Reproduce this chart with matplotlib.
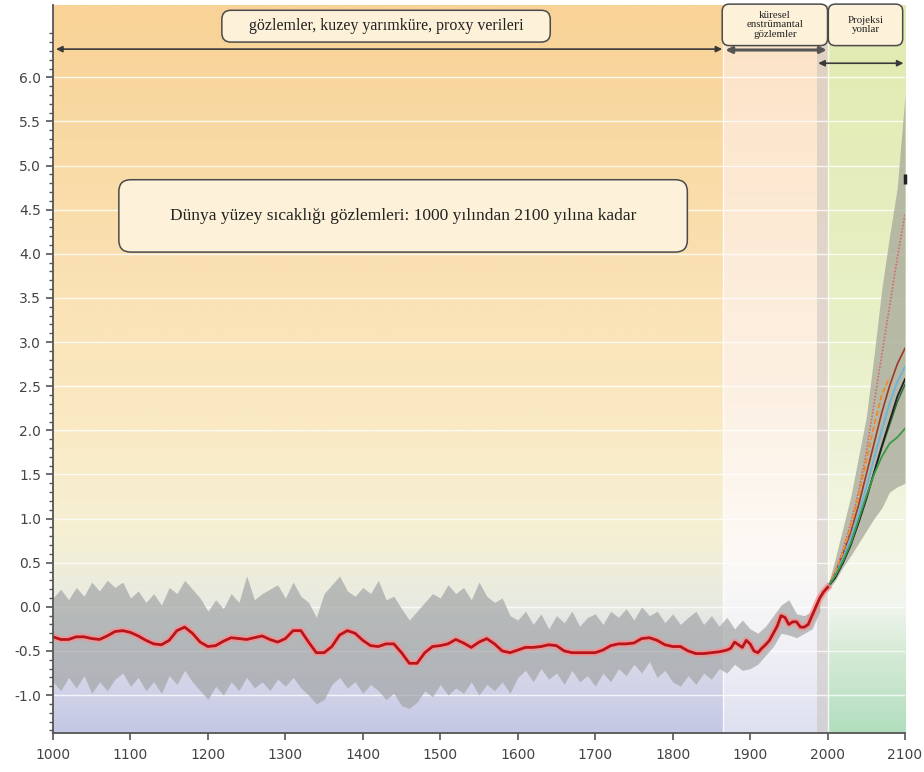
import matplotlib
matplotlib.use("Agg")
import matplotlib.pyplot as plt
import numpy as np
from matplotlib.patches import FancyBboxPatch

# --- veriler -------------------------------------------------------------
# vekil (proxy) belirsizlik zarfı, 10 yıllık adımlarla (1000-1990)
proxy_yil = list(range(1000, 2000, 10))
proxy_ust = [
    0.10, 0.20, 0.08, 0.22, 0.12, 0.28, 0.18, 0.30, 0.22, 0.28,
    0.10, 0.18, 0.05, 0.15, 0.02, 0.22, 0.15, 0.30, 0.20, 0.10,
    -0.05, 0.08, -0.02, 0.15, 0.05, 0.35, 0.08, 0.15, 0.20, 0.25,
    0.10, 0.28, 0.12, 0.05, -0.12, 0.15, 0.25, 0.35, 0.18, 0.12,
    0.22, 0.15, 0.30, 0.08, 0.12, -0.02, -0.15, -0.05, 0.05, 0.15,
    0.10, 0.25, 0.15, 0.22, 0.08, 0.28, 0.12, 0.05, 0.10, -0.10,
    -0.15, -0.05, -0.20, -0.08, -0.25, -0.10, -0.18, -0.05, -0.22, -0.12,
    -0.08, -0.20, -0.05, -0.12, -0.02, -0.15, 0.00, -0.10, -0.05, -0.18,
    -0.08, -0.20, -0.12, -0.05, -0.20, -0.10, -0.22, -0.12, -0.25, -0.15,
    -0.25, -0.30, -0.22, -0.10, 0.02, 0.08, -0.08, -0.10, -0.05, 0.10,
]
proxy_alt = [
    -0.85, -0.95, -0.80, -0.92, -0.78, -0.98, -0.85, -0.95, -0.82, -0.75,
    -0.90, -0.80, -0.95, -0.85, -0.98, -0.78, -0.88, -0.72, -0.85, -0.95,
    -1.05, -0.90, -1.00, -0.85, -0.95, -0.80, -0.92, -0.85, -0.95, -0.82,
    -0.90, -0.80, -0.92, -1.00, -1.10, -1.05, -0.88, -0.80, -0.92, -0.85,
    -0.98, -0.88, -0.95, -1.05, -0.98, -1.12, -1.15, -1.08, -0.95, -1.02,
    -0.88, -1.00, -0.92, -0.98, -0.85, -1.00, -0.88, -0.95, -0.85, -0.98,
    -0.80, -0.72, -0.85, -0.70, -0.82, -0.75, -0.88, -0.72, -0.85, -0.78,
    -0.90, -0.75, -0.85, -0.70, -0.78, -0.65, -0.75, -0.62, -0.80, -0.72,
    -0.85, -0.90, -0.78, -0.88, -0.75, -0.82, -0.70, -0.75, -0.65, -0.72,
    -0.70, -0.65, -0.55, -0.45, -0.30, -0.32, -0.35, -0.30, -0.25, -0.05,
]

# yumuşatılmış sıcaklık eğrisi
gozlem_yil = list(range(1000, 1861, 10)) + list(range(1865, 2001, 5))
gozlem_deger = [
    -0.34, -0.37, -0.37, -0.34, -0.34, -0.36, -0.37, -0.33, -0.28, -0.27,
    -0.29, -0.33, -0.38, -0.42, -0.43, -0.38, -0.27, -0.23, -0.30, -0.40,
    -0.45, -0.44, -0.39, -0.35, -0.36, -0.37, -0.35, -0.33, -0.37, -0.40,
    -0.36, -0.27, -0.27, -0.40, -0.52, -0.52, -0.45, -0.32, -0.27, -0.30,
    -0.38, -0.44, -0.45, -0.42, -0.42, -0.52, -0.64, -0.64, -0.52, -0.45,
    -0.44, -0.42, -0.37, -0.41, -0.46, -0.40, -0.36, -0.42, -0.50, -0.52,
    -0.49, -0.46, -0.46, -0.45, -0.43, -0.44, -0.50, -0.52, -0.52, -0.52,
    -0.52, -0.49, -0.44, -0.42, -0.42, -0.41, -0.36, -0.35, -0.38, -0.43,
    -0.45, -0.45, -0.50, -0.53, -0.53, -0.52, -0.51,
    -0.50, -0.49, -0.47, -0.40, -0.43, -0.46, -0.38, -0.42, -0.50, -0.52,
    -0.47, -0.43, -0.38, -0.30, -0.22, -0.10, -0.12, -0.20, -0.17, -0.17,
    -0.23, -0.23, -0.20, -0.10, 0.00, 0.10, 0.17, 0.22,
]

# projeksiyonlar (2000-2100)
proj_yil = list(range(2000, 2101, 10))
yelpaze_ust = [0.22, 0.55, 0.90, 1.25, 1.70, 2.15, 2.85, 3.60, 4.20, 4.75, 5.80]
yelpaze_alt = [0.18, 0.30, 0.45, 0.58, 0.72, 0.86, 1.00, 1.12, 1.30, 1.36, 1.40]
senaryo_noktali = [0.22, 0.40, 0.65, 0.95, 1.30, 1.75, 2.30, 2.85, 3.40, 3.95, 4.45]
senaryo_kahve = [0.22, 0.38, 0.60, 0.85, 1.15, 1.50, 1.85, 2.20, 2.50, 2.75, 2.93]
senaryo_turuncu = [0.22, 0.40, 0.62, 0.90, 1.25, 1.65, 2.05, 2.40, 2.60]
senaryo_mavi = [0.22, 0.36, 0.55, 0.78, 1.05, 1.35, 1.68, 2.00, 2.30, 2.55, 2.72]
senaryo_siyah = [0.22, 0.33, 0.50, 0.70, 0.95, 1.22, 1.52, 1.82, 2.10, 2.38, 2.58]
senaryo_yesil = [0.22, 0.35, 0.52, 0.72, 0.98, 1.25, 1.50, 1.70, 1.85, 1.92, 2.02]
senaryo_koyu_yesil = [0.22, 0.34, 0.51, 0.71, 0.97, 1.24, 1.52, 1.80, 2.06, 2.32, 2.52]
uc_isaret_yil = [2100]
uc_isaret_deger = [4.85]

y_ticks = np.arange(-1.0, 6.01, 0.5)
x_ticks = list(range(1000, 2101, 100))

YMIN, YMAX = -1.43, 6.82


def gradyan(ax, x0, x1, duraklar, zorder=0):
    v = np.linspace(YMIN, YMAX, 300)
    vals = [d[0] for d in duraklar]
    img = np.zeros((len(v), 1, 3))
    for k in range(3):
        img[:, 0, k] = np.interp(v, vals, [d[1][k] / 255 for d in duraklar])
    ax.imshow(img, extent=[x0, x1, YMIN, YMAX], origin="lower",
              aspect="auto", interpolation="bilinear", zorder=zorder)


fig = plt.figure(figsize=(9.24, 7.72), dpi=100)
ax = fig.add_axes([53 / 924, 39 / 772, 852 / 924, 728 / 772])

# arka plan bölgeleri
gradyan(ax, 1000, 1865, [(YMIN, (196, 200, 228)), (-0.8, (212, 214, 232)),
                         (0.0, (232, 234, 226)), (0.8, (245, 240, 212)),
                         (2.0, (250, 234, 196)), (4.0, (250, 224, 176)),
                         (YMAX, (248, 210, 150))])
gradyan(ax, 1865, 2000, [(YMIN, (222, 224, 240)), (-0.5, (240, 240, 246)),
                         (0.5, (252, 250, 246)), (2.5, (253, 240, 226)),
                         (YMAX, (252, 226, 196))])
gradyan(ax, 2000, 2100, [(YMIN, (178, 222, 190)), (-0.5, (215, 235, 215)),
                         (0.0, (240, 245, 238)), (0.5, (244, 246, 230)),
                         (3.0, (232, 240, 200)), (YMAX, (226, 234, 176))])
ax.axvspan(1986, 2000, color="#c9c4be", alpha=0.55, lw=0, zorder=1)
ax.axvline(1865, color="white", lw=1.0, alpha=0.8, zorder=1)
ax.axvline(2000, color="white", lw=1.0, alpha=0.8, zorder=1)

for yv in y_ticks:
    ax.axhline(yv, color="white", lw=1.0, alpha=0.8, zorder=1)

# vekil verisi zarfı
ax.fill_between(proxy_yil, proxy_alt, proxy_ust, color="#a4a7a8",
                alpha=0.72, lw=0, zorder=2)

# projeksiyon yelpazesi ve senaryolar
ax.fill_between(proj_yil, yelpaze_alt, yelpaze_ust, color="#a6a79a",
                alpha=0.75, lw=0, zorder=2)
ax.plot(proj_yil, senaryo_noktali, color="#d46a6a", lw=1.2, ls=(0, (1, 1)), zorder=3)
ax.plot(proj_yil, senaryo_kahve, color="#9b3b2a", lw=1.2, zorder=3)
ax.plot(proj_yil[:len(senaryo_turuncu)], senaryo_turuncu, color="#f08a2a",
        lw=1.3, ls=(0, (3, 1.5)), zorder=3)
ax.plot(proj_yil, senaryo_mavi, color="#6cb4d8", lw=1.4, zorder=3)
ax.plot(proj_yil, senaryo_koyu_yesil, color="#2f6b3a", lw=1.1, zorder=3)
ax.plot(proj_yil, senaryo_siyah, color="#1f1f1f", lw=1.3, zorder=3)
ax.plot(proj_yil, senaryo_yesil, color="#3a9a4a", lw=1.3, zorder=3)
ax.plot(uc_isaret_yil, uc_isaret_deger, marker="|", ms=7, mew=2.5,
        color="#222222", zorder=4, clip_on=False)

# gözlem eğrisi (parlama + çekirdek)
ax.plot(gozlem_yil, gozlem_deger, color="#f59090", lw=5, alpha=0.75, zorder=4)
ax.plot(gozlem_yil, gozlem_deger, color="#b8141a", lw=2, zorder=5)

# eksenler
ax.set_xlim(1000, 2100)
ax.set_ylim(YMIN, YMAX)
for s in ("top", "right"):
    ax.spines[s].set_visible(False)
for s in ("left", "bottom"):
    ax.spines[s].set_color("#555555")
    ax.spines[s].set_linewidth(1.3)
    ax.spines[s].set_zorder(6)
ax.set_yticks(y_ticks)
ax.set_yticklabels([f"{v:.1f}" for v in y_ticks])
ax.set_yticks(np.arange(-1.4, 6.51, 0.1), minor=True)
ax.set_xticks(x_ticks)
ax.tick_params(axis="both", which="major", length=5, width=1.2,
               colors="#555555", labelsize=10, labelcolor="#444444")
ax.tick_params(axis="y", which="minor", length=3, width=1, colors="#555555")
ax.tick_params(axis="x", pad=6)

# üst oklar
ok = dict(arrowstyle="<|-|>", color="#3a3a3a", lw=1.2, mutation_scale=9,
          shrinkA=0, shrinkB=0)
ax.annotate("", xy=(1004, 6.32), xytext=(1864, 6.32), arrowprops=ok, zorder=7)
ax.annotate("", xy=(1868, 6.31), xytext=(1999, 6.31),
            arrowprops=dict(ok, lw=2.2, color="#555555"), zorder=7)
ax.annotate("", xy=(1988, 6.16), xytext=(2098, 6.16), arrowprops=ok, zorder=7)

# etiket kutuları
asp = (1 / 88.3) / (1 / 0.7745)


def kutu(x0, x1, y0, y1, metin, boyut, r=9):
    p = FancyBboxPatch((x0, y0), x1 - x0, y1 - y0,
                       boxstyle=f"round,pad=0,rounding_size={r / 0.7745}",
                       mutation_aspect=asp, fc="#fdf1d9", ec="#4a4a4a",
                       lw=1.1, zorder=8, clip_on=False)
    ax.add_patch(p)
    ax.text((x0 + x1) / 2, (y0 + y1) / 2, metin, ha="center", va="center",
            family="Liberation Serif", fontsize=boyut, color="#222222",
            linespacing=1.1, zorder=9, clip_on=False)


kutu(1218, 1642, 6.40, 6.76, "gözlemler, kuzey yarımküre, proxy verileri", 11.5)
kutu(1864, 2000, 6.36, 6.83, "küresel\nenstrümantal\ngözlemler", 7.8, r=7)
kutu(2001, 2097, 6.36, 6.83, "Projeksi\nyonlar", 7.8, r=7)
kutu(1085, 1819, 4.02, 4.84,
     "Dünya yüzey sıcaklığı gözlemleri: 1000 yılından 2100 yılına kadar", 12.5, r=12)

fig.savefig("out.png", dpi=100, facecolor="white")
